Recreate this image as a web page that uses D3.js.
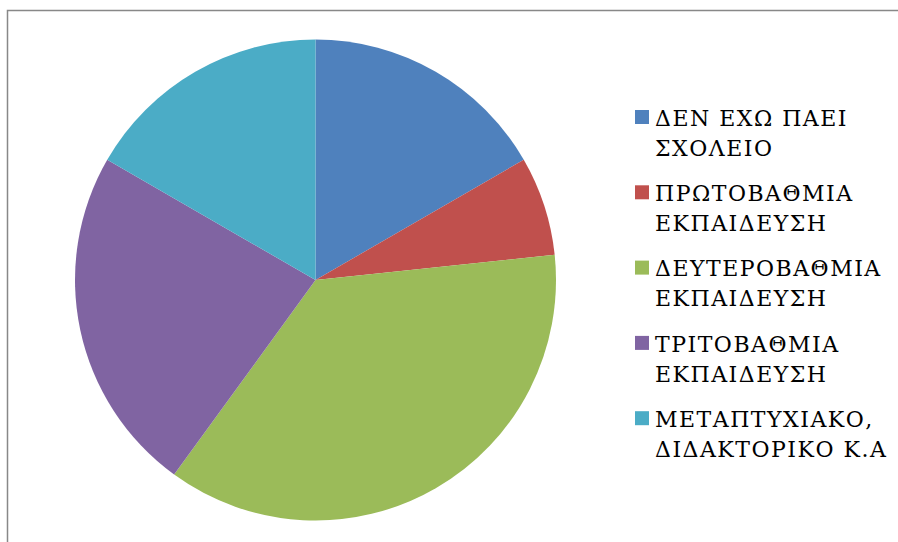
<!DOCTYPE html>
<html>
<head>
<meta charset="utf-8">
<script src="https://cdnjs.cloudflare.com/ajax/libs/d3/7.8.5/d3.min.js"></script>
<style>
  body { margin: 0; background: #fff; }
  svg { display: block; }
</style>
</head>
<body>
<div id="chart"></div>
<script>
"use strict";

// categories and counts (slices go clockwise from 12 o'clock)
var categories = [
  ["ΔΕΝ ΕΧΩ ΠΑΕΙ", "ΣΧΟΛΕΙΟ"],
  ["ΠΡΩΤΟΒΑΘΜΙΑ", "ΕΚΠΑΙΔΕΥΣΗ"],
  ["ΔΕΥΤΕΡΟΒΑΘΜΙΑ", "ΕΚΠΑΙΔΕΥΣΗ"],
  ["ΤΡΙΤΟΒΑΘΜΙΑ", "ΕΚΠΑΙΔΕΥΣΗ"],
  ["ΜΕΤΑΠΤΥΧΙΑΚΟ,", "ΔΙΔΑΚΤΟΡΙΚΟ Κ.Α"]
];
var values = [5, 2, 11, 7, 5];
var colors = ["#4F81BD", "#C0504D", "#9BBB59", "#8064A2", "#4BACC6"];

var width = 898, height = 542;

var svg = d3.select("#chart")
  .append("svg")
  .attr("width", width)
  .attr("height", height);

// chart area frame (only top and left edge are visible)
svg.append("path")
  .attr("d", "M7.5,542 L7.5,10.5 L898,10.5")
  .attr("fill", "none")
  .attr("stroke", "#888")
  .attr("stroke-width", 1.5);

var cx = 315.5, cy = 280, radius = 240.5;

var pie = d3.pie().sort(null).value(function(d) { return d; });
var arc = d3.arc().innerRadius(0).outerRadius(radius);

var g = svg.append("g")
  .attr("transform", "translate(" + cx + "," + cy + ")");

g.selectAll("path.slice")
  .data(pie(values))
  .enter().append("path")
  .attr("class", "slice")
  .attr("d", arc)
  .attr("fill", function(d, i) { return colors[i]; });

// legend
var legY = d3.scaleLinear().domain([0, 1]).range([110, 185.3]);

var leg = svg.append("g").attr("class", "legend");

var item = leg.selectAll("g")
  .data(categories)
  .enter().append("g")
  .attr("transform", function(d, i) { return "translate(635," + legY(i) + ")"; });

item.append("rect")
  .attr("width", 14)
  .attr("height", 14)
  .attr("fill", function(d, i) { return colors[i]; });

item.append("text")
  .attr("x", 20)
  .attr("y", 15.7)
  .attr("fill", "#000")
  .style("font-family", "'DejaVu Serif', serif")
  .style("font-size", "22px")
  .style("letter-spacing", "1.5px")
  .selectAll("tspan")
  .data(function(d) { return d; })
  .enter().append("tspan")
  .attr("x", 20)
  .attr("dy", function(d, i) { return i === 0 ? 0 : 30; })
  .text(function(d) { return d; });
</script>
</body>
</html>
